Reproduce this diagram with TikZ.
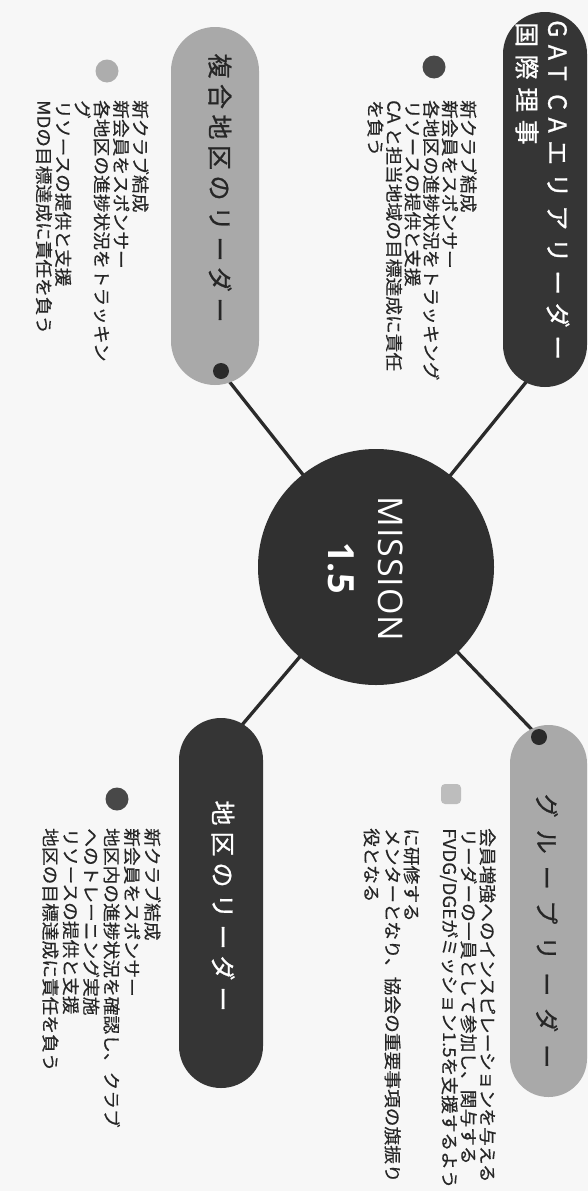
\documentclass[tikz,border=0pt]{standalone}
\usepackage{fontspec}
\setmainfont{Noto Sans CJK JP}
\newfontfamily\misfont{Open Sans}
\definecolor{bgcol}{HTML}{F7F7F7}
\definecolor{darkpill}{HTML}{353535}
\definecolor{lightpill}{HTML}{A9A9A9}
\definecolor{hubcol}{HTML}{303030}
\definecolor{ink}{HTML}{262626}
\definecolor{linecol}{HTML}{2A2A2A}
\definecolor{bulletdark}{HTML}{484848}
\definecolor{bulletlight}{HTML}{ADADAD}
\definecolor{bulletpale}{HTML}{BDBDBD}
\pgfdeclarelayer{bgl}
\pgfdeclarelayer{lines}
\pgfsetlayers{bgl,lines,main}
\begin{document}
\begin{tikzpicture}[x=1pt,y=-1pt,
  pill/.style={rectangle, draw=none, inner sep=0pt},
  pindot/.style={circle, inner sep=0pt, minimum size=16pt, fill=linecol},
  bullet/.style={circle, inner sep=0pt, minimum size=23pt},
  body/.style={rotate=-90, anchor=north west, align=left, inner sep=0pt, text=ink},
  bodyfont/.style={font=\fontsize{17.5}{#1}\selectfont\addfontfeature{FakeStretch=1.07,FakeBold=0.4}},
  title/.style={rotate=-90, inner sep=0pt},
  conn/.style={draw=linecol, line width=3.3pt},
]
\begin{pgfonlayer}{bgl}
\fill[bgcol] (0,0) rectangle (588,1191);
\end{pgfonlayer}
\useasboundingbox (0,0) rectangle (588,1191);

% pills
\node[pill, fill=darkpill, minimum width=84pt, minimum height=375pt, rounded corners=42pt] (p1) at (545,199.5) {};
\node[pill, fill=lightpill, minimum width=88pt, minimum height=358pt, rounded corners=44pt] (p3) at (215,206) {};
\node[pill, fill=lightpill, minimum width=77pt, minimum height=372pt, rounded corners=38.5pt] (p5) at (548.5,911) {};
\node[pill, fill=darkpill, minimum width=84pt, minimum height=370pt, rounded corners=42pt] (p6) at (221,903) {};

% dots on pills
\node[pindot] (d3) at (221,371) {};
\node[pindot] (d5) at (539,737) {};
\coordinate (c1) at (544,360);
\coordinate (c6) at (225,745);

% hub
\node[circle, fill=hubcol, minimum size=236pt, inner sep=0pt] (hub) at (376,567) {};
\node[title, text=white, font=\misfont\fontsize{34}{34}\selectfont\addfontfeature{LetterSpace=3}] (mis) at (391,569) {MISSION};
\node[title, text=white, font=\misfont\bfseries\fontsize{36}{36}\selectfont] (num) at (341,568) {1.5};

% connectors
\begin{pgfonlayer}{lines}
\draw[conn] (hub.center) -- (c1);
\draw[conn] (hub.center) -- (d3.center);
\draw[conn] (hub.center) -- (d5.center);
\draw[conn] (hub.center) -- (c6);
\end{pgfonlayer}

% titles
\node[title, anchor=west, text=white, font=\fontsize{25}{28}\selectfont\addfontfeature{LetterSpace=30,FakeBold=0.8}] (t1a) at (558,20) {GAT CAエリアリーダー};
\node[title, anchor=west, text=white, font=\fontsize{25}{28}\selectfont\addfontfeature{LetterSpace=30,FakeBold=0.8}] (t1b) at (527,22) {国際理事};
\node[title, text=ink, font=\fontsize{25}{28}\selectfont\addfontfeature{LetterSpace=22,FakeBold=0.8}] (t3) at (220,188) {複合地区のリーダー};
\node[title, text=ink, font=\fontsize{24}{28}\selectfont\addfontfeature{LetterSpace=50,FakeBold=0.8}] (t5) at (547,931) {グループリーダー};
\node[title, text=white, font=\fontsize{25}{28}\selectfont\addfontfeature{LetterSpace=24,FakeBold=0.8}] (t6) at (223,906) {地区のリーダー};

% bullets
\node[bullet, fill=bulletdark] (b1) at (434,67) {};
\node[bullet, fill=bulletlight] (b3) at (107,71) {};
\node[rectangle, rounded corners=4pt, inner sep=0pt, minimum size=20pt, fill=bulletpale] (b5) at (451,794) {};
\node[bullet, fill=bulletdark] (b6) at (117,799) {};

% body texts
\node[body, bodyfont=18.6] (x1) at (477,100) {新クラブ結成\\新会員をスポンサー\\各地区の進捗状況をトラッキング\\リソースの提供と支援\\CA と担当地域の目標達成に責任\\を負う};
\node[body, bodyfont=19.3] (x3) at (149,100) {新クラブ結成\\新会員をスポンサー\\各地区の進捗状況をトラッキン\\グ\\リソースの提供と支援\\MDの目標達成に責任を負う};
\node[body, bodyfont=19] (x5) at (496,828) {会員増強へのインスピレーションを与える\\リーダーの一員として参加し、関与する\\FVDG/DGEがミッション1.5を支援するよう\\[19pt]に研修する\\メンターとなり、協会の重要事項の旗振り\\[2pt]役となる};
\node[body, bodyfont=20.4] (x6) at (161,828) {新クラブ結成\\新会員をスポンサー\\地区内の進捗状況を確認し、クラブ\\へのトレーニング実施\\リソースの提供と支援\\地区の目標達成に責任を負う};
\end{tikzpicture}
\end{document}
